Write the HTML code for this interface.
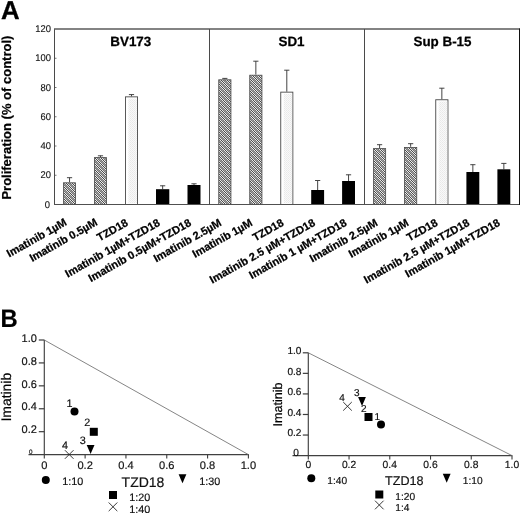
<!DOCTYPE html>
<html lang="en">
<head>
<meta charset="utf-8">
<title>Figure</title>
<style>
html,body{margin:0;padding:0;background:#fff;}
body{width:520px;height:513px;overflow:hidden;}
svg{display:block;font-family:"Liberation Sans", Arial, Helvetica, sans-serif;}
svg text{font-family:"Liberation Sans", Arial, Helvetica, sans-serif;text-rendering:geometricPrecision;}
</style>
</head>
<body>
<svg width="520" height="513" viewBox="0 0 520 513">
<defs>
<pattern id="hatch" width="6" height="6" patternUnits="userSpaceOnUse"><rect width="6" height="6" fill="#787878"/><rect x="0" y="0" width="1" height="1" fill="#9c9c9c"/><rect x="2" y="0" width="1" height="1" fill="#e8e8e8"/><rect x="3" y="0" width="1" height="1" fill="#484848"/><rect x="4" y="0" width="1" height="1" fill="#e8e8e8"/><rect x="1" y="1" width="1" height="1" fill="#9c9c9c"/><rect x="3" y="1" width="1" height="1" fill="#e8e8e8"/><rect x="4" y="1" width="1" height="1" fill="#484848"/><rect x="5" y="1" width="1" height="1" fill="#e8e8e8"/><rect x="0" y="2" width="1" height="1" fill="#e8e8e8"/><rect x="2" y="2" width="1" height="1" fill="#9c9c9c"/><rect x="4" y="2" width="1" height="1" fill="#e8e8e8"/><rect x="5" y="2" width="1" height="1" fill="#484848"/><rect x="0" y="3" width="1" height="1" fill="#484848"/><rect x="1" y="3" width="1" height="1" fill="#e8e8e8"/><rect x="3" y="3" width="1" height="1" fill="#9c9c9c"/><rect x="5" y="3" width="1" height="1" fill="#e8e8e8"/><rect x="0" y="4" width="1" height="1" fill="#e8e8e8"/><rect x="1" y="4" width="1" height="1" fill="#484848"/><rect x="2" y="4" width="1" height="1" fill="#e8e8e8"/><rect x="4" y="4" width="1" height="1" fill="#9c9c9c"/><rect x="1" y="5" width="1" height="1" fill="#e8e8e8"/><rect x="2" y="5" width="1" height="1" fill="#484848"/><rect x="3" y="5" width="1" height="1" fill="#e8e8e8"/><rect x="5" y="5" width="1" height="1" fill="#9c9c9c"/></pattern>
<pattern id="dots" width="2" height="2" patternUnits="userSpaceOnUse"><rect width="2" height="2" fill="#f9f9f9"/><rect width="1" height="1" fill="#e9e9e9"/><rect x="1" y="1" width="1" height="1" fill="#ededed"/></pattern>
</defs>
<rect width="520" height="513" fill="#fff"/>
<text transform="translate(0.9,19.2) scale(1.05,1.05)" font-size="24.6" font-weight="bold" stroke="#000" stroke-width="0.3">A</text>
<text transform="translate(0.4,327.4) scale(1,1.06)" font-size="23.8" font-weight="bold" stroke="#000" stroke-width="0.2">B</text>
<text transform="translate(11.3,199.6) rotate(-90)" font-size="13.0" font-weight="bold" stroke="#000" stroke-width="0.2">Proliferation (% of control)</text>
<text transform="translate(50.0,207.60) scale(0.96,1)" font-size="9.8" text-anchor="end" fill="#111" stroke="#111" stroke-width="0.12">0</text>
<text transform="translate(50.9,178.35) scale(0.96,1)" font-size="9.8" text-anchor="end" fill="#111" stroke="#111" stroke-width="0.12">20</text>
<line x1="54.5" y1="175.25" x2="56.5" y2="175.25" stroke="#555" stroke-width="0.8"/>
<text transform="translate(50.9,149.10) scale(0.96,1)" font-size="9.8" text-anchor="end" fill="#111" stroke="#111" stroke-width="0.12">40</text>
<line x1="54.5" y1="146.00" x2="56.5" y2="146.00" stroke="#555" stroke-width="0.8"/>
<text transform="translate(50.9,119.85) scale(0.96,1)" font-size="9.8" text-anchor="end" fill="#111" stroke="#111" stroke-width="0.12">60</text>
<line x1="54.5" y1="116.75" x2="56.5" y2="116.75" stroke="#555" stroke-width="0.8"/>
<text transform="translate(50.9,90.60) scale(0.96,1)" font-size="9.8" text-anchor="end" fill="#111" stroke="#111" stroke-width="0.12">80</text>
<line x1="54.5" y1="87.50" x2="56.5" y2="87.50" stroke="#555" stroke-width="0.8"/>
<text transform="translate(50.9,61.35) scale(0.96,1)" font-size="9.8" text-anchor="end" fill="#111" stroke="#111" stroke-width="0.12">100</text>
<line x1="54.5" y1="58.25" x2="56.5" y2="58.25" stroke="#555" stroke-width="0.8"/>
<text transform="translate(50.9,32.10) scale(0.96,1)" font-size="9.8" text-anchor="end" fill="#111" stroke="#111" stroke-width="0.12">120</text>
<line x1="69.55" y1="182.2" x2="69.55" y2="177.5" stroke="#444" stroke-width="1"/>
<line x1="66.95" y1="177.7" x2="72.15" y2="177.7" stroke="#444" stroke-width="1"/>
<rect x="63.55" y="182.80" width="12.00" height="21.70" fill="url(#hatch)" stroke="#484848" stroke-width="0.8"/>
<line x1="100.50" y1="157.0" x2="100.50" y2="155.6" stroke="#444" stroke-width="1"/>
<line x1="97.90" y1="155.79999999999998" x2="103.10" y2="155.79999999999998" stroke="#444" stroke-width="1"/>
<rect x="94.45" y="157.60" width="12.10" height="46.90" fill="url(#hatch)" stroke="#484848" stroke-width="0.8"/>
<line x1="131.50" y1="96.4" x2="131.50" y2="94.4" stroke="#444" stroke-width="1"/>
<line x1="128.90" y1="94.60000000000001" x2="134.10" y2="94.60000000000001" stroke="#444" stroke-width="1"/>
<rect x="125.45" y="96.85" width="12.10" height="107.65" fill="#fff" stroke="#484848" stroke-width="0.9"/>
<rect x="128.40" y="98.60" width="8.40" height="104.70" fill="url(#dots)"/>
<line x1="162.65" y1="189.2" x2="162.65" y2="185.6" stroke="#444" stroke-width="1"/>
<line x1="160.05" y1="185.79999999999998" x2="165.25" y2="185.79999999999998" stroke="#444" stroke-width="1"/>
<rect x="156.0" y="189.2" width="13.30" height="15.30" fill="#000"/>
<line x1="194.00" y1="185.0" x2="194.00" y2="183.6" stroke="#444" stroke-width="1"/>
<line x1="191.40" y1="183.79999999999998" x2="196.60" y2="183.79999999999998" stroke="#444" stroke-width="1"/>
<rect x="187.5" y="185.0" width="13.00" height="19.50" fill="#000"/>
<line x1="224.85" y1="79.2" x2="224.85" y2="78.2" stroke="#444" stroke-width="1"/>
<line x1="222.25" y1="78.4" x2="227.45" y2="78.4" stroke="#444" stroke-width="1"/>
<rect x="218.75" y="79.80" width="12.20" height="124.70" fill="url(#hatch)" stroke="#484848" stroke-width="0.8"/>
<line x1="255.85" y1="74.6" x2="255.85" y2="61.0" stroke="#444" stroke-width="1"/>
<line x1="253.25" y1="61.2" x2="258.45" y2="61.2" stroke="#444" stroke-width="1"/>
<rect x="249.75" y="75.20" width="12.20" height="129.30" fill="url(#hatch)" stroke="#484848" stroke-width="0.8"/>
<line x1="286.80" y1="91.7" x2="286.80" y2="70.0" stroke="#444" stroke-width="1"/>
<line x1="284.20" y1="70.2" x2="289.40" y2="70.2" stroke="#444" stroke-width="1"/>
<rect x="280.75" y="92.15" width="12.10" height="112.35" fill="#fff" stroke="#484848" stroke-width="0.9"/>
<rect x="283.70" y="93.90" width="8.40" height="109.40" fill="url(#dots)"/>
<line x1="317.65" y1="190.0" x2="317.65" y2="180.3" stroke="#444" stroke-width="1"/>
<line x1="315.05" y1="180.5" x2="320.25" y2="180.5" stroke="#444" stroke-width="1"/>
<rect x="311.2" y="190.0" width="12.90" height="14.50" fill="#000"/>
<line x1="348.55" y1="181.0" x2="348.55" y2="174.6" stroke="#444" stroke-width="1"/>
<line x1="345.95" y1="174.79999999999998" x2="351.15" y2="174.79999999999998" stroke="#444" stroke-width="1"/>
<rect x="342.1" y="181.0" width="12.90" height="23.50" fill="#000"/>
<line x1="379.60" y1="148.0" x2="379.60" y2="144.5" stroke="#444" stroke-width="1"/>
<line x1="377.00" y1="144.7" x2="382.20" y2="144.7" stroke="#444" stroke-width="1"/>
<rect x="373.55" y="148.60" width="12.10" height="55.90" fill="url(#hatch)" stroke="#484848" stroke-width="0.8"/>
<line x1="410.65" y1="146.8" x2="410.65" y2="143.5" stroke="#444" stroke-width="1"/>
<line x1="408.05" y1="143.7" x2="413.25" y2="143.7" stroke="#444" stroke-width="1"/>
<rect x="404.55" y="147.40" width="12.20" height="57.10" fill="url(#hatch)" stroke="#484848" stroke-width="0.8"/>
<line x1="441.85" y1="99.3" x2="441.85" y2="88.0" stroke="#444" stroke-width="1"/>
<line x1="439.25" y1="88.2" x2="444.45" y2="88.2" stroke="#444" stroke-width="1"/>
<rect x="435.75" y="99.75" width="12.20" height="104.75" fill="#fff" stroke="#484848" stroke-width="0.9"/>
<rect x="438.70" y="101.50" width="8.50" height="101.80" fill="url(#dots)"/>
<line x1="472.85" y1="172.0" x2="472.85" y2="164.5" stroke="#444" stroke-width="1"/>
<line x1="470.25" y1="164.7" x2="475.45" y2="164.7" stroke="#444" stroke-width="1"/>
<rect x="466.4" y="172.0" width="12.90" height="32.50" fill="#000"/>
<line x1="503.85" y1="169.3" x2="503.85" y2="163.2" stroke="#444" stroke-width="1"/>
<line x1="501.25" y1="163.39999999999998" x2="506.45" y2="163.39999999999998" stroke="#444" stroke-width="1"/>
<rect x="497.4" y="169.3" width="12.90" height="35.20" fill="#000"/>
<path d="M54.5 204.5V29.0" fill="none" stroke="#4a4a4a" stroke-width="1"/>
<path d="M54.0 29.0H520" fill="none" stroke="#5a5a5a" stroke-width="1.3"/>
<path d="M54.0 204.5H520" fill="none" stroke="#505050" stroke-width="1.0"/>
<path d="M519.5 28.5V205.0" fill="none" stroke="#111" stroke-width="1.0"/>
<line x1="209.5" y1="29.0" x2="209.5" y2="204.5" stroke="#4a4a4a" stroke-width="1"/>
<line x1="364.5" y1="29.0" x2="364.5" y2="204.5" stroke="#4a4a4a" stroke-width="1"/>
<text x="130.8" y="45.7" font-size="13.4" font-weight="bold" text-anchor="middle" stroke="#000" stroke-width="0.25">BV173</text>
<text x="291.5" y="45.7" font-size="13.4" font-weight="bold" text-anchor="middle" stroke="#000" stroke-width="0.25">SD1</text>
<text x="442.5" y="45.7" font-size="13.4" font-weight="bold" text-anchor="middle" stroke="#000" stroke-width="0.25">Sup B-15</text>
<text transform="translate(67.5,224.6) rotate(-29.5)" font-size="11.0" font-weight="bold" text-anchor="end" stroke="#000" stroke-width="0.25">Imatinib 1µM</text>
<text transform="translate(98.3,224.6) rotate(-29.5)" font-size="11.0" font-weight="bold" text-anchor="end" stroke="#000" stroke-width="0.25">Imatinib 0.5µM</text>
<text transform="translate(128.8,225.0) rotate(-29.5)" font-size="11.0" font-weight="bold" text-anchor="end" stroke="#000" stroke-width="0.25">TZD18</text>
<text transform="translate(160.8,225.0) rotate(-29.5)" font-size="11.0" font-weight="bold" text-anchor="end" stroke="#000" stroke-width="0.25">Imatinib 1µM+TZD18</text>
<text transform="translate(192.0,225.0) rotate(-29.5)" font-size="11.0" font-weight="bold" text-anchor="end" stroke="#000" stroke-width="0.25">Imatinib 0.5µM+TZD18</text>
<text transform="translate(222.3,225.0) rotate(-29.5)" font-size="11.0" font-weight="bold" text-anchor="end" stroke="#000" stroke-width="0.25">Imatinib 2.5µM</text>
<text transform="translate(253.2,225.0) rotate(-29.5)" font-size="11.0" font-weight="bold" text-anchor="end" stroke="#000" stroke-width="0.25">Imatinib 1µM</text>
<text transform="translate(284.5,225.0) rotate(-29.5)" font-size="11.0" font-weight="bold" text-anchor="end" stroke="#000" stroke-width="0.25">TZD18</text>
<text transform="translate(316.0,225.0) rotate(-29.5)" font-size="11.0" font-weight="bold" text-anchor="end" stroke="#000" stroke-width="0.25">Imatinib 2.5 µM+TZD18</text>
<text transform="translate(347.5,225.0) rotate(-29.5)" font-size="11.0" font-weight="bold" text-anchor="end" stroke="#000" stroke-width="0.25">Imatinib 1 µM+TZD18</text>
<text transform="translate(378.5,225.0) rotate(-29.5)" font-size="11.0" font-weight="bold" text-anchor="end" stroke="#000" stroke-width="0.25">Imatinib 2.5µM</text>
<text transform="translate(409.5,225.0) rotate(-29.5)" font-size="11.0" font-weight="bold" text-anchor="end" stroke="#000" stroke-width="0.25">Imatinib 1µM</text>
<text transform="translate(438.5,225.0) rotate(-29.5)" font-size="11.0" font-weight="bold" text-anchor="end" stroke="#000" stroke-width="0.25">TZD18</text>
<text transform="translate(470.3,225.0) rotate(-29.5)" font-size="11.0" font-weight="bold" text-anchor="end" stroke="#000" stroke-width="0.25">Imatinib 2.5 µM+TZD18</text>
<text transform="translate(500.8,225.0) rotate(-29.5)" font-size="11.0" font-weight="bold" text-anchor="end" stroke="#000" stroke-width="0.25">Imatinib 1µM+TZD18</text>
<line x1="44.3" y1="340.0" x2="44.3" y2="454.6" stroke="#404040" stroke-width="1.15"/>
<line x1="28.499999999999996" y1="454.6" x2="248.70000000000002" y2="454.6" stroke="#404040" stroke-width="1.25"/>
<line x1="44.3" y1="340.0" x2="248.4" y2="454.6" stroke="#777" stroke-width="0.9"/>
<line x1="38.8" y1="431.68" x2="44.3" y2="431.68" stroke="#3c3c3c" stroke-width="1.2"/>
<text x="36.9" y="433.41" font-size="11.0" text-anchor="end" fill="#111" stroke="#111" stroke-width="0.18">0.2</text>
<line x1="38.8" y1="408.76" x2="44.3" y2="408.76" stroke="#3c3c3c" stroke-width="1.2"/>
<text x="36.9" y="410.49" font-size="11.0" text-anchor="end" fill="#111" stroke="#111" stroke-width="0.18">0.4</text>
<line x1="38.8" y1="385.84" x2="44.3" y2="385.84" stroke="#3c3c3c" stroke-width="1.2"/>
<text x="36.9" y="387.57" font-size="11.0" text-anchor="end" fill="#111" stroke="#111" stroke-width="0.18">0.6</text>
<line x1="38.8" y1="362.92" x2="44.3" y2="362.92" stroke="#3c3c3c" stroke-width="1.2"/>
<text x="36.9" y="364.65" font-size="11.0" text-anchor="end" fill="#111" stroke="#111" stroke-width="0.18">0.8</text>
<line x1="38.8" y1="340.00" x2="44.3" y2="340.00" stroke="#3c3c3c" stroke-width="1.2"/>
<text x="36.9" y="341.73" font-size="11.0" text-anchor="end" fill="#111" stroke="#111" stroke-width="0.18">1.0</text>
<text x="29.0" y="453.9" font-size="6.3" text-anchor="start" fill="#111" stroke="#111" stroke-width="0.18">0</text>
<line x1="44.30" y1="454.6" x2="44.30" y2="458.6" stroke="#3c3c3c" stroke-width="1.1"/>
<text x="44.30" y="468.60" font-size="11.1" text-anchor="middle" fill="#111" stroke="#111" stroke-width="0.18">0</text>
<line x1="85.12" y1="454.6" x2="85.12" y2="458.6" stroke="#3c3c3c" stroke-width="1.1"/>
<text x="85.12" y="468.60" font-size="11.1" text-anchor="middle" fill="#111" stroke="#111" stroke-width="0.18">0.2</text>
<line x1="125.94" y1="454.6" x2="125.94" y2="458.6" stroke="#3c3c3c" stroke-width="1.1"/>
<text x="125.94" y="468.60" font-size="11.1" text-anchor="middle" fill="#111" stroke="#111" stroke-width="0.18">0.4</text>
<line x1="166.76" y1="454.6" x2="166.76" y2="458.6" stroke="#3c3c3c" stroke-width="1.1"/>
<text x="166.76" y="468.60" font-size="11.1" text-anchor="middle" fill="#111" stroke="#111" stroke-width="0.18">0.6</text>
<line x1="207.58" y1="454.6" x2="207.58" y2="458.6" stroke="#3c3c3c" stroke-width="1.1"/>
<text x="207.58" y="468.60" font-size="11.1" text-anchor="middle" fill="#111" stroke="#111" stroke-width="0.18">0.8</text>
<line x1="248.40" y1="454.6" x2="248.40" y2="458.6" stroke="#3c3c3c" stroke-width="1.1"/>
<text x="248.40" y="468.60" font-size="11.1" text-anchor="middle" fill="#111" stroke="#111" stroke-width="0.18">1.0</text>
<text transform="translate(11.2,421.5) rotate(-90)" font-size="13.9" stroke="#000" stroke-width="0.18">Imatinib</text>
<text x="121.6" y="486.8" font-size="14" text-anchor="start" fill="#111" stroke="#111" stroke-width="0.18">TZD18</text>
<circle cx="74.5" cy="411.5" r="4.0" fill="#000"/>
<text x="66.5" y="406.6" font-size="10.8" text-anchor="start" fill="#111" stroke="#111" stroke-width="0.18">1</text>
<rect x="89.8" y="427.8" width="8.0" height="8.0" fill="#000"/>
<text x="84.3" y="425.6" font-size="10.8" text-anchor="start" fill="#111" stroke="#111" stroke-width="0.18">2</text>
<path d="M86.69999999999999 445.1H94.5L90.6 454.1Z" fill="#000"/>
<text x="79.8" y="443.8" font-size="10.8" text-anchor="start" fill="#111" stroke="#111" stroke-width="0.18">3</text>
<path d="M64.9 450.2L73.5 458.8M73.5 450.2L64.9 458.8" stroke="#222" stroke-width="0.9" fill="none"/>
<text x="62.0" y="448.8" font-size="10.8" text-anchor="start" fill="#111" stroke="#111" stroke-width="0.18">4</text>
<circle cx="45.8" cy="480.0" r="4.0" fill="#000"/>
<text x="62.3" y="485.0" font-size="10.8" text-anchor="start" fill="#111" stroke="#111" stroke-width="0.18">1:10</text>
<path d="M178.6 474.3H186.4L182.5 483.3Z" fill="#000"/>
<text x="199.3" y="485.0" font-size="10.8" text-anchor="start" fill="#111" stroke="#111" stroke-width="0.18">1:30</text>
<rect x="109.0" y="491.0" width="8.0" height="8.0" fill="#000"/>
<text x="129.3" y="500.8" font-size="10.8" text-anchor="start" fill="#111" stroke="#111" stroke-width="0.18">1:20</text>
<path d="M108.7 502.5L117.3 511.1M117.3 502.5L108.7 511.1" stroke="#222" stroke-width="0.9" fill="none"/>
<text x="129.3" y="512.6" font-size="10.8" text-anchor="start" fill="#111" stroke="#111" stroke-width="0.18">1:40</text>
<line x1="308.3" y1="352.8" x2="308.3" y2="455.6" stroke="#404040" stroke-width="1.15"/>
<line x1="292.5" y1="455.6" x2="512.3" y2="455.6" stroke="#404040" stroke-width="1.25"/>
<line x1="308.3" y1="352.8" x2="512.0" y2="455.6" stroke="#777" stroke-width="0.9"/>
<line x1="302.8" y1="435.04" x2="308.3" y2="435.04" stroke="#3c3c3c" stroke-width="1.2"/>
<text x="301.5" y="436.47" font-size="10.1" text-anchor="end" fill="#111" stroke="#111" stroke-width="0.18">0.2</text>
<line x1="302.8" y1="414.48" x2="308.3" y2="414.48" stroke="#3c3c3c" stroke-width="1.2"/>
<text x="301.5" y="415.91" font-size="10.1" text-anchor="end" fill="#111" stroke="#111" stroke-width="0.18">0.4</text>
<line x1="302.8" y1="393.92" x2="308.3" y2="393.92" stroke="#3c3c3c" stroke-width="1.2"/>
<text x="301.5" y="395.35" font-size="10.1" text-anchor="end" fill="#111" stroke="#111" stroke-width="0.18">0.6</text>
<line x1="302.8" y1="373.36" x2="308.3" y2="373.36" stroke="#3c3c3c" stroke-width="1.2"/>
<text x="301.5" y="374.79" font-size="10.1" text-anchor="end" fill="#111" stroke="#111" stroke-width="0.18">0.8</text>
<line x1="302.8" y1="352.80" x2="308.3" y2="352.80" stroke="#3c3c3c" stroke-width="1.2"/>
<text x="301.5" y="354.23" font-size="10.1" text-anchor="end" fill="#111" stroke="#111" stroke-width="0.18">1.0</text>
<text x="293.2" y="456.0" font-size="10.2" text-anchor="start" fill="#111" stroke="#111" stroke-width="0.18">0</text>
<line x1="308.30" y1="455.6" x2="308.30" y2="459.6" stroke="#3c3c3c" stroke-width="1.1"/>
<text x="308.30" y="468.40" font-size="10.3" text-anchor="middle" fill="#111" stroke="#111" stroke-width="0.18">0</text>
<line x1="349.04" y1="455.6" x2="349.04" y2="459.6" stroke="#3c3c3c" stroke-width="1.1"/>
<text x="349.04" y="468.40" font-size="10.3" text-anchor="middle" fill="#111" stroke="#111" stroke-width="0.18">0.2</text>
<line x1="389.78" y1="455.6" x2="389.78" y2="459.6" stroke="#3c3c3c" stroke-width="1.1"/>
<text x="389.78" y="468.40" font-size="10.3" text-anchor="middle" fill="#111" stroke="#111" stroke-width="0.18">0.4</text>
<line x1="430.52" y1="455.6" x2="430.52" y2="459.6" stroke="#3c3c3c" stroke-width="1.1"/>
<text x="430.52" y="468.40" font-size="10.3" text-anchor="middle" fill="#111" stroke="#111" stroke-width="0.18">0.6</text>
<line x1="471.26" y1="455.6" x2="471.26" y2="459.6" stroke="#3c3c3c" stroke-width="1.1"/>
<text x="471.26" y="468.40" font-size="10.3" text-anchor="middle" fill="#111" stroke="#111" stroke-width="0.18">0.8</text>
<line x1="512.00" y1="455.6" x2="512.00" y2="459.6" stroke="#3c3c3c" stroke-width="1.1"/>
<text x="512.00" y="468.40" font-size="10.3" text-anchor="middle" fill="#111" stroke="#111" stroke-width="0.18">1.0</text>
<text transform="translate(282.3,426.5) rotate(-90)" font-size="12.6" stroke="#000" stroke-width="0.18">Imatinib</text>
<text x="385.0" y="485.3" font-size="12.6" text-anchor="start" fill="#111" stroke="#111" stroke-width="0.18">TZD18</text>
<circle cx="381.0" cy="424.5" r="4.0" fill="#000"/>
<text x="374.6" y="419.5" font-size="10" text-anchor="start" fill="#111" stroke="#111" stroke-width="0.18">1</text>
<rect x="364.5" y="413.0" width="8.0" height="8.0" fill="#000"/>
<text x="361.0" y="411.8" font-size="10" text-anchor="start" fill="#111" stroke="#111" stroke-width="0.18">2</text>
<path d="M358.1 396.9H365.9L362.0 405.9Z" fill="#000"/>
<text x="354.0" y="395.8" font-size="10" text-anchor="start" fill="#111" stroke="#111" stroke-width="0.18">3</text>
<path d="M343.2 402.0L351.8 410.6M351.8 402.0L343.2 410.6" stroke="#222" stroke-width="0.9" fill="none"/>
<text x="339.3" y="401.3" font-size="10" text-anchor="start" fill="#111" stroke="#111" stroke-width="0.18">4</text>
<circle cx="311.3" cy="478.3" r="4.0" fill="#000"/>
<text x="327.3" y="483.8" font-size="10.2" text-anchor="start" fill="#111" stroke="#111" stroke-width="0.18">1:40</text>
<path d="M442.8 473.8H450.59999999999997L446.7 482.8Z" fill="#000"/>
<text x="462.8" y="483.8" font-size="10.2" text-anchor="start" fill="#111" stroke="#111" stroke-width="0.18">1:10</text>
<rect x="375.3" y="490.5" width="8.0" height="8.0" fill="#000"/>
<text x="395.3" y="500.3" font-size="10.2" text-anchor="start" fill="#111" stroke="#111" stroke-width="0.18">1:20</text>
<path d="M375.0 500.7L383.6 509.3M383.6 500.7L375.0 509.3" stroke="#222" stroke-width="0.9" fill="none"/>
<text x="395.3" y="511.0" font-size="10.2" text-anchor="start" fill="#111" stroke="#111" stroke-width="0.18">1:4</text>
</svg>
</body>
</html>
